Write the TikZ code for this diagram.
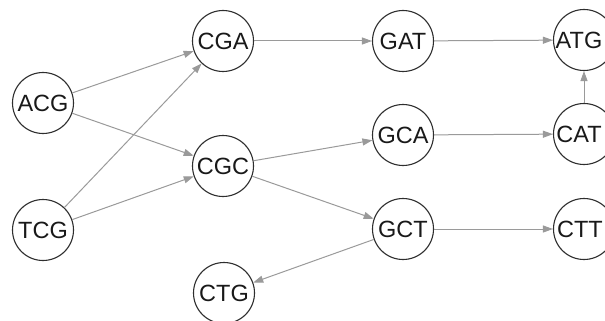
\documentclass[tikz,border=0pt]{standalone}
\usepackage{fontspec}
\setmainfont{Liberation Sans}
\usetikzlibrary{arrows.meta}
\definecolor{edgegray}{HTML}{9A9A9A}
\definecolor{ringgray}{HTML}{2E2E2E}
\begin{document}
\begin{tikzpicture}[x=1pt,y=-1pt,
  kmer/.style={circle,draw=ringgray,line width=1.1pt,fill=white,minimum size=61pt,inner sep=0pt,font=\fontsize{23.5}{24}\selectfont,text=black!90},
  link/.style={draw=edgegray,line width=1pt,-{Triangle[length=10pt,width=7pt]}}]
\clip (0,0) rectangle (605,321);
\useasboundingbox (0,0) rectangle (605,321);
\node[kmer] (ACG) at (43,103) {ACG};
\node[kmer] (TCG) at (43,230) {TCG};
\node[kmer] (CGA) at (223,41) {CGA};
\node[kmer] (CGC) at (223,166) {CGC};
\node[kmer] (CTG) at (224,293) {CTG};
\node[kmer] (GAT) at (403,41) {GAT};
\node[kmer] (GCA) at (403,135) {GCA};
\node[kmer] (GCT) at (403,229) {GCT};
\node[kmer] (ATG) at (584,40) {\hspace*{-10pt}ATG};
\node[kmer] (CAT) at (584,134) {\hspace*{-10pt}CAT};
\node[kmer] (CTT) at (584,229) {\hspace*{-8pt}CTT};
\draw[link] (ACG) -- (CGA);
\draw[link] (ACG) -- (CGC);
\draw[link] (TCG) -- (CGA);
\draw[link] (TCG) -- (CGC);
\draw[link] (CGA) -- (GAT);
\draw[link] (CGC) -- (GCA);
\draw[link] (CGC) -- (GCT);
\draw[link] (GCT) -- (CTG);
\draw[link] (GAT) -- (ATG);
\draw[link] (GCA) -- (CAT);
\draw[link] (CAT) -- (ATG);
\draw[link] (GCT) -- (CTT);
\end{tikzpicture}
\end{document}
